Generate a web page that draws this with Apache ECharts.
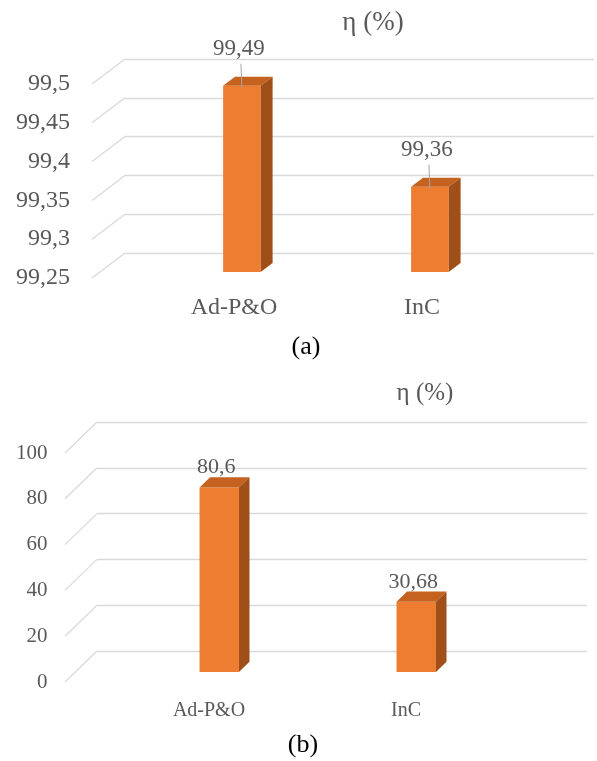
<!DOCTYPE html>
<html>
<head>
<meta charset="utf-8">
<title>η (%)</title>
<script src="https://cdn.jsdelivr.net/npm/echarts@6/dist/echarts.min.js"></script>
<style>
  html, body { margin: 0; padding: 0; background: #ffffff; }
  #chart { width: 597px; height: 761px; }
</style>
</head>
<body>
<div id="chart"></div>
<script>
// Categories and efficiency values for both panels
const categories = ['Ad-P&O', 'InC'];
const efficiencyA = [99.49, 99.36];
const efficiencyB = [80.6, 30.68];
// Value-axis ticks for each panel
const ticksA = [99.25, 99.3, 99.35, 99.4, 99.45, 99.5];
const ticksB = [0, 20, 40, 60, 80, 100];

const FONT = "'Liberation Serif', 'Times New Roman', serif";
const TEXT = '#595959';
const GRID_LINE = '#D9D9D9';
const FRONT = '#ED7D31';
const TOP = '#C5621F';
const SIDE = '#A04F18';

const comma = v => (+(+v).toFixed(2)).toString().replace('.', ',');

// Pseudo-3D look: "wall" grid holds the back gridlines, "front" grid holds the bars/labels.
// depth = offset from the front plane to the back wall.
const panels = [
  { wall: { left: 125, right: 3, top: 59, height: 194 },
    front: { left: 140, width: 376, top: 84, height: 194 },
    depth: [33, -25], frontFrac: 0.24, backFrac: 0.6,
    ticks: ticksA, interval: 0.05, data: efficiencyA,
    tickFont: 24, catFont: 24, catMargin: 18, tickMargin: 70,
    valueFont: 23, labelRise: 37, leader: true },
  { wall: { left: 97, right: 10, top: 422, height: 229 },
    front: { left: 110.5, width: 394, top: 453, height: 229 },
    depth: [32, -31], frontFrac: 0.32, backFrac: 0.65,
    ticks: ticksB, interval: 20, data: efficiencyB,
    tickFont: 21, catFont: 20, catMargin: 19, tickMargin: 63,
    valueFont: 22, labelRise: 20, leader: false }
];

const grid = [], xAxis = [], yAxis = [], series = [];

panels.forEach((p, i) => {
  const wallIdx = grid.length;
  grid.push(p.wall);
  const frontIdx = grid.length;
  grid.push(p.front);
  const yMin = p.ticks[0], yMax = p.ticks[p.ticks.length - 1];

  // back wall: gridlines only
  xAxis.push({ gridIndex: wallIdx, type: 'value', min: 0, max: 1, show: false });
  yAxis.push({ gridIndex: wallIdx, type: 'value', min: yMin, max: yMax, interval: p.interval,
    axisLine: { show: false }, axisTick: { show: false }, axisLabel: { show: false },
    splitLine: { show: true, lineStyle: { color: GRID_LINE, width: 1.3 } } });

  // front plane: category and value labels
  xAxis.push({ gridIndex: frontIdx, type: 'category', data: categories,
    axisLine: { show: false }, axisTick: { show: false }, splitLine: { show: false },
    axisLabel: { color: TEXT, fontFamily: FONT, fontSize: p.catFont, margin: p.catMargin } });
  yAxis.push({ gridIndex: frontIdx, type: 'value', min: yMin, max: yMax, interval: p.interval,
    axisLine: { show: false }, axisTick: { show: false }, splitLine: { show: false },
    axisLabel: { color: TEXT, fontFamily: FONT, fontSize: p.tickFont, margin: p.tickMargin,
      formatter: comma } });

  // slanted floor/side lines joining each wall gridline to the front
  series.push({
    type: 'custom', xAxisIndex: wallIdx, yAxisIndex: wallIdx, silent: true,
    data: p.ticks.map(v => [0, v]),
    renderItem: (params, api) => {
      const b = api.coord([0, api.value(1)]);
      return { type: 'line',
        shape: { x1: b[0], y1: b[1], x2: b[0] - p.depth[0], y2: b[1] - p.depth[1] },
        style: { stroke: GRID_LINE, lineWidth: 1.2 } };
    }
  });

  // 3D-looking bars with value labels
  series.push({
    type: 'custom', xAxisIndex: frontIdx, yAxisIndex: frontIdx, silent: true,
    data: p.data.map((v, k) => [k, v]),
    renderItem: (params, api) => {
      const val = api.value(1);
      const topPt = api.coord([api.value(0), val]);
      const basePt = api.coord([api.value(0), yMin]);
      const hw = api.size([1, 0])[0] * 0.1;
      const fx = p.depth[0] * p.frontFrac, fy = p.depth[1] * p.frontFrac;
      const bx = p.depth[0] * p.backFrac, by = p.depth[1] * p.backFrac;
      const cx = topPt[0];
      const L = cx - hw + fx, R = cx + hw + fx;
      const T = topPt[1] + fy, B = basePt[1] + fy;
      const dx = bx - fx, dy = by - fy;
      const children = [
        { type: 'polygon', shape: { points: [[L, T], [R, T], [R, B], [L, B]] },
          style: { fill: FRONT } },
        { type: 'polygon', shape: { points: [[L, T], [R, T], [R + dx, T + dy], [L + dx, T + dy]] },
          style: { fill: TOP } },
        { type: 'polygon', shape: { points: [[R, T], [R + dx, T + dy], [R + dx, B + dy], [R, B]] },
          style: { fill: SIDE } }
      ];
      const labelY = T - p.labelRise;
      const labelX = (L + R) / 2 - 3;
      if (p.leader) {
        children.push({ type: 'line',
          shape: { x1: labelX + 2, y1: labelY + 15, x2: labelX + 3, y2: T + 2 },
          style: { stroke: '#A6A6A6', lineWidth: 1 } });
      }
      children.push({ type: 'text',
        style: { text: comma(val), x: labelX, y: labelY, align: 'center', verticalAlign: 'middle',
          fill: TEXT, font: p.valueFont + 'px ' + FONT } });
      return { type: 'group', children };
    }
  });
});

const chart = echarts.init(document.getElementById('chart'), null, { renderer: 'canvas' });
chart.setOption({
  animation: false,
  backgroundColor: '#ffffff',
  grid, xAxis, yAxis, series,
  graphic: [
    { type: 'text', x: 373, y: 23, style: { text: 'η (%)', fill: TEXT, font: '27px ' + FONT,
      textAlign: 'center', textVerticalAlign: 'middle' } },
    { type: 'text', x: 306, y: 347, style: { text: '(a)', fill: '#000000', font: '26px ' + FONT,
      textAlign: 'center', textVerticalAlign: 'middle' } },
    { type: 'text', x: 425, y: 393, style: { text: 'η (%)', fill: TEXT, font: '25px ' + FONT,
      textAlign: 'center', textVerticalAlign: 'middle' } },
    { type: 'text', x: 303, y: 745, style: { text: '(b)', fill: '#000000', font: '26px ' + FONT,
      textAlign: 'center', textVerticalAlign: 'middle' } }
  ]
});
</script>
</body>
</html>
